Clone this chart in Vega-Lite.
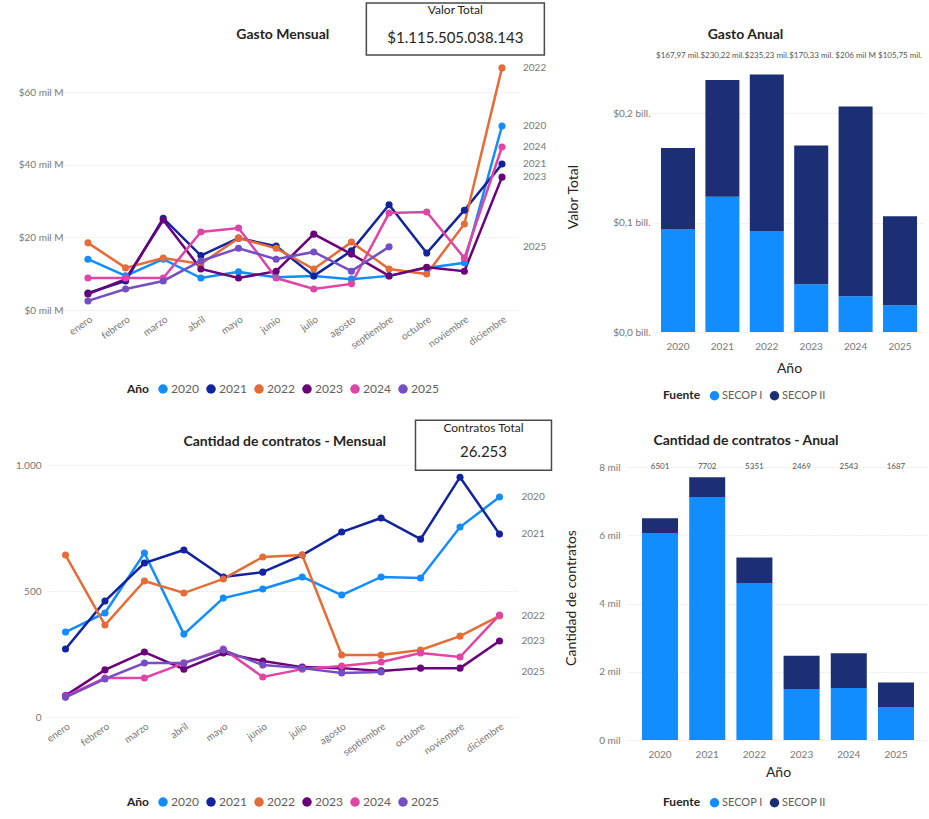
{
  "$schema": "https://vega.github.io/schema/vega-lite/v6.json",
  "background": "white",
  "padding": {"left": 15, "top": 0, "right": 0, "bottom": 5},
  "datasets": {
    "mensual": [
      {"Año": "2020", "mes": "enero", "m": 1, "gasto": 14.0, "contratos": 337},
      {"Año": "2020", "mes": "febrero", "m": 2, "gasto": 9.4, "contratos": 413},
      {"Año": "2020", "mes": "marzo", "m": 3, "gasto": 14.0, "contratos": 651},
      {"Año": "2020", "mes": "abril", "m": 4, "gasto": 8.8, "contratos": 329},
      {"Año": "2020", "mes": "mayo", "m": 5, "gasto": 10.5, "contratos": 472},
      {"Año": "2020", "mes": "junio", "m": 6, "gasto": 9.0, "contratos": 508},
      {"Año": "2020", "mes": "julio", "m": 7, "gasto": 9.4, "contratos": 556},
      {"Año": "2020", "mes": "agosto", "m": 8, "gasto": 8.5, "contratos": 484},
      {"Año": "2020", "mes": "septiembre", "m": 9, "gasto": 9.4, "contratos": 556},
      {"Año": "2020", "mes": "octubre", "m": 10, "gasto": 11.6, "contratos": 552},
      {"Año": "2020", "mes": "noviembre", "m": 11, "gasto": 13.0, "contratos": 754},
      {"Año": "2020", "mes": "diciembre", "m": 12, "gasto": 50.7, "contratos": 873},
      {"Año": "2021", "mes": "enero", "m": 1, "gasto": 4.7, "contratos": 270},
      {"Año": "2021", "mes": "febrero", "m": 2, "gasto": 8.0, "contratos": 460},
      {"Año": "2021", "mes": "marzo", "m": 3, "gasto": 25.3, "contratos": 611},
      {"Año": "2021", "mes": "abril", "m": 4, "gasto": 15.0, "contratos": 663},
      {"Año": "2021", "mes": "mayo", "m": 5, "gasto": 19.8, "contratos": 556},
      {"Año": "2021", "mes": "junio", "m": 6, "gasto": 17.6, "contratos": 575},
      {"Año": "2021", "mes": "julio", "m": 7, "gasto": 9.4, "contratos": 643},
      {"Año": "2021", "mes": "agosto", "m": 8, "gasto": 16.3, "contratos": 734},
      {"Año": "2021", "mes": "septiembre", "m": 9, "gasto": 29.0, "contratos": 790},
      {"Año": "2021", "mes": "octubre", "m": 10, "gasto": 15.7, "contratos": 706},
      {"Año": "2021", "mes": "noviembre", "m": 11, "gasto": 27.5, "contratos": 952},
      {"Año": "2021", "mes": "diciembre", "m": 12, "gasto": 40.2, "contratos": 726},
      {"Año": "2022", "mes": "enero", "m": 1, "gasto": 18.5, "contratos": 643},
      {"Año": "2022", "mes": "febrero", "m": 2, "gasto": 11.6, "contratos": 365},
      {"Año": "2022", "mes": "marzo", "m": 3, "gasto": 14.3, "contratos": 540},
      {"Año": "2022", "mes": "abril", "m": 4, "gasto": 12.7, "contratos": 492},
      {"Año": "2022", "mes": "mayo", "m": 5, "gasto": 19.8, "contratos": 548},
      {"Año": "2022", "mes": "junio", "m": 6, "gasto": 17.0, "contratos": 635},
      {"Año": "2022", "mes": "julio", "m": 7, "gasto": 11.3, "contratos": 643},
      {"Año": "2022", "mes": "agosto", "m": 8, "gasto": 18.7, "contratos": 246},
      {"Año": "2022", "mes": "septiembre", "m": 9, "gasto": 11.3, "contratos": 246},
      {"Año": "2022", "mes": "octubre", "m": 10, "gasto": 9.9, "contratos": 266},
      {"Año": "2022", "mes": "noviembre", "m": 11, "gasto": 23.7, "contratos": 321},
      {"Año": "2022", "mes": "diciembre", "m": 12, "gasto": 66.7, "contratos": 401},
      {"Año": "2023", "mes": "enero", "m": 1, "gasto": 4.4, "contratos": 85},
      {"Año": "2023", "mes": "febrero", "m": 2, "gasto": 8.5, "contratos": 187},
      {"Año": "2023", "mes": "marzo", "m": 3, "gasto": 24.8, "contratos": 258},
      {"Año": "2023", "mes": "abril", "m": 4, "gasto": 11.3, "contratos": 190},
      {"Año": "2023", "mes": "mayo", "m": 5, "gasto": 8.8, "contratos": 254},
      {"Año": "2023", "mes": "junio", "m": 6, "gasto": 10.7, "contratos": 222},
      {"Año": "2023", "mes": "julio", "m": 7, "gasto": 20.9, "contratos": 198},
      {"Año": "2023", "mes": "agosto", "m": 8, "gasto": 15.4, "contratos": 194},
      {"Año": "2023", "mes": "septiembre", "m": 9, "gasto": 9.4, "contratos": 183},
      {"Año": "2023", "mes": "octubre", "m": 10, "gasto": 11.8, "contratos": 194},
      {"Año": "2023", "mes": "noviembre", "m": 11, "gasto": 10.7, "contratos": 194},
      {"Año": "2023", "mes": "diciembre", "m": 12, "gasto": 36.6, "contratos": 302},
      {"Año": "2024", "mes": "enero", "m": 1, "gasto": 8.8, "contratos": 82},
      {"Año": "2024", "mes": "febrero", "m": 2, "gasto": 8.8, "contratos": 155},
      {"Año": "2024", "mes": "marzo", "m": 3, "gasto": 8.8, "contratos": 155},
      {"Año": "2024", "mes": "abril", "m": 4, "gasto": 21.5, "contratos": 214},
      {"Año": "2024", "mes": "mayo", "m": 5, "gasto": 22.6, "contratos": 270},
      {"Año": "2024", "mes": "junio", "m": 6, "gasto": 8.8, "contratos": 159},
      {"Año": "2024", "mes": "julio", "m": 7, "gasto": 5.8, "contratos": 190},
      {"Año": "2024", "mes": "agosto", "m": 8, "gasto": 7.2, "contratos": 202},
      {"Año": "2024", "mes": "septiembre", "m": 9, "gasto": 26.7, "contratos": 218},
      {"Año": "2024", "mes": "octubre", "m": 10, "gasto": 27.0, "contratos": 254},
      {"Año": "2024", "mes": "noviembre", "m": 11, "gasto": 14.3, "contratos": 238},
      {"Año": "2024", "mes": "diciembre", "m": 12, "gasto": 44.9, "contratos": 405},
      {"Año": "2025", "mes": "enero", "m": 1, "gasto": 2.5, "contratos": 78},
      {"Año": "2025", "mes": "febrero", "m": 2, "gasto": 5.8, "contratos": 151},
      {"Año": "2025", "mes": "marzo", "m": 3, "gasto": 8.0, "contratos": 214},
      {"Año": "2025", "mes": "abril", "m": 4, "gasto": 13.5, "contratos": 214},
      {"Año": "2025", "mes": "mayo", "m": 5, "gasto": 17.0, "contratos": 266},
      {"Año": "2025", "mes": "junio", "m": 6, "gasto": 14.0, "contratos": 206},
      {"Año": "2025", "mes": "julio", "m": 7, "gasto": 16.0, "contratos": 194},
      {"Año": "2025", "mes": "agosto", "m": 8, "gasto": 10.7, "contratos": 175},
      {"Año": "2025", "mes": "septiembre", "m": 9, "gasto": 17.4, "contratos": 179}
    ],
    "anual": [
      {"Año": "2020", "Fuente": "SECOP I", "valor": 93.6, "contratos": 6066},
      {"Año": "2020", "Fuente": "SECOP II", "valor": 74.37, "contratos": 435},
      {"Año": "2021", "Fuente": "SECOP I", "valor": 123.6, "contratos": 7121},
      {"Año": "2021", "Fuente": "SECOP II", "valor": 106.62, "contratos": 581},
      {"Año": "2022", "Fuente": "SECOP I", "valor": 91.8, "contratos": 4600},
      {"Año": "2022", "Fuente": "SECOP II", "valor": 143.43, "contratos": 751},
      {"Año": "2023", "Fuente": "SECOP I", "valor": 43.6, "contratos": 1494},
      {"Año": "2023", "Fuente": "SECOP II", "valor": 126.73, "contratos": 975},
      {"Año": "2024", "Fuente": "SECOP I", "valor": 32.7, "contratos": 1524},
      {"Año": "2024", "Fuente": "SECOP II", "valor": 173.3, "contratos": 1019},
      {"Año": "2025", "Fuente": "SECOP I", "valor": 24.5, "contratos": 967},
      {"Año": "2025", "Fuente": "SECOP II", "valor": 81.25, "contratos": 720}
    ]
  },
  "config": {
    "font": "Lato",
    "locale": {"number": {"decimal": ",", "thousands": ".", "grouping": [3], "currency": ["$", ""]}},
    "view": {"stroke": null},
    "axis": {"domain": false, "ticks": false, "labelColor": "#777777", "labelFontSize": 10, "titleColor": "#252423", "titleFontSize": 14, "titleFontWeight": "normal", "gridColor": "#dddddd", "gridDash": [1, 2]},
    "axisX": {"grid": false},
    "title": {"fontSize": 14, "fontWeight": "bold", "color": "#252423", "frame": "bounds", "anchor": "middle"},
    "legend": {"layout": {"bottom": {"anchor": "middle", "bounds": "full"}}, "orient": "bottom", "direction": "horizontal", "titleOrient": "left", "symbolType": "circle", "symbolSize": 90, "labelFontSize": 12, "labelColor": "#605E5C", "titleFontSize": 12, "titleColor": "#252423", "titleFontWeight": "bold", "columnPadding": 6, "labelOffset": 2, "titlePadding": 8}
  },
  "resolve": {"scale": {"color": "independent", "stroke": "independent", "x": "independent", "y": "independent"}, "legend": {"color": "independent", "stroke": "independent"}},
  "spacing": 16,
  "columns": 1,
  "align": "none",
  "concat": [
    {
      "hconcat": [
        {
          "width": 469, "height": 249,
          "title": {"text": "Gasto Mensual", "offset": -42},
          "data": {"name": "mensual"},
          "layer": [
            {
              "mark": {"type": "line", "strokeWidth": 2.5},
              "encoding": {
                "x": {"field": "mes", "type": "ordinal", "scale": {"type": "point", "domain": ["enero","febrero","marzo","abril","mayo","junio","julio","agosto","septiembre","octubre","noviembre","diciembre"], "padding": 0.73, "align": 0.727}, "axis": {"title": null, "labelAngle": -35, "labelPadding": 4}},
                "y": {"field": "gasto", "type": "quantitative", "scale": {"domain": [0, 68.6], "nice": false}, "axis": {"values": [0, 20, 40, 60], "labelExpr": "'$' + datum.value + ' mil M'", "title": null, "minExtent": 0, "labelPadding": -15, "grid": true}},
                "stroke": {"field": "Año", "type": "nominal", "scale": {"range": ["#118DFF","#12239E","#E66C37","#6B007B","#E044A7","#744EC2"]}, "legend": null}
              }
            },
            {
              "mark": {"type": "point", "filled": true, "size": 50, "opacity": 1},
              "encoding": {
                "x": {"field": "mes", "type": "ordinal"},
                "y": {"field": "gasto", "type": "quantitative"},
                "color": {"field": "Año", "type": "nominal", "scale": {"domain": ["2020","2021","2022","2023","2024","2025"], "range": ["#118DFF","#12239E","#E66C37","#6B007B","#E044A7","#744EC2"]}, "legend": {"title": "Año", "offset": 32}}
              }
            },
            {
              "transform": [{"joinaggregate": [{"op": "max", "field": "m", "as": "mmax"}], "groupby": ["Año"]}, {"filter": "datum.m == datum.mmax"}],
              "mark": {"type": "text", "align": "left", "dx": 21, "fontSize": 10, "color": "#777777"},
              "encoding": {
                "x": {"datum": "diciembre", "type": "ordinal"},
                "y": {"field": "gasto", "type": "quantitative"},
                "text": {"field": "Año"}
              }
            },
            {
              "data": {"values": [{"kpi": "Valor Total", "valor": "$1.115.505.038.143"}]},
              "layer": [
                {
                  "mark": {"type": "point", "shape": "M-1,-0.292H1V0.292H-1Z", "size": 31684, "filled": true, "fill": "white", "stroke": "#4a4a4a", "strokeWidth": 1.5, "opacity": 1, "xOffset": -9},
                  "encoding": {"x": {"datum": "noviembre", "type": "ordinal"}, "y": {"datum": 77.4, "type": "quantitative"}}
                },
                {
                  "mark": {"type": "text", "fontSize": 12, "color": "#252423", "dx": -9},
                  "encoding": {"x": {"datum": "noviembre", "type": "ordinal"}, "y": {"datum": 82.6, "type": "quantitative"}, "text": {"field": "kpi"}}
                },
                {
                  "mark": {"type": "text", "fontSize": 15, "color": "#252423", "dx": -9},
                  "encoding": {"x": {"datum": "noviembre", "type": "ordinal"}, "y": {"datum": 74.9, "type": "quantitative"}, "text": {"field": "valor"}}
                }
              ]
            }
          ]
        },
        {
          "width": 272, "height": 271,
          "title": {"text": "Gasto Anual", "offset": 10},
          "data": {"name": "anual"},
          "layer": [
            {
              "mark": {"type": "bar"},
              "encoding": {
                "x": {"field": "Año", "type": "nominal", "scale": {"paddingInner": 0.234, "paddingOuter": 0.18}, "axis": {"title": "Año", "labelAngle": 0, "labelPadding": 9, "titlePadding": 10}},
                "y": {"field": "valor", "type": "quantitative", "stack": "zero", "scale": {"domain": [0, 247.5], "nice": false}, "axis": {"values": [0, 100, 200], "labelExpr": "'$' + format(datum.value / 1000, '.1f') + ' bill.'", "title": "Valor Total", "minExtent": 41, "labelPadding": 3, "titlePadding": 32, "grid": true}},
                "color": {"field": "Fuente", "type": "nominal", "scale": {"domain": ["SECOP I", "SECOP II"], "range": ["#118DFF", "#1D2F74"]}, "legend": {"title": "Fuente", "orient": "none", "legendX": 10, "legendY": 329, "labelFontSize": 11}},
                "order": {"field": "Fuente", "sort": "ascending"}
              }
            },
            {
              "transform": [{"aggregate": [{"op": "sum", "field": "valor", "as": "total_valor"}], "groupby": ["Año"]}, {"calculate": "'$' + format(datum.total_valor, ',.2~f') + ' mil M'", "as": "etiqueta"}],
              "mark": {"type": "text", "fontSize": 8, "color": "#555555", "limit": 45, "ellipsis": "."},
              "encoding": {
                "x": {"field": "Año", "type": "nominal"},
                "y": {"datum": 252, "type": "quantitative"},
                "text": {"field": "etiqueta"}
              }
            }
          ]
        }
      ],
      "spacing": 136,
      "bounds": "flush",
      "resolve": {"scale": {"color": "independent", "stroke": "independent", "x": "independent", "y": "independent"}, "legend": {"color": "independent", "stroke": "independent"}}
    },
    {
      "hconcat": [
        {
          "width": 469, "height": 262,
          "title": {"text": "Cantidad de contratos - Mensual", "offset": -32},
          "data": {"name": "mensual"},
          "layer": [
            {
              "mark": {"type": "line", "strokeWidth": 2.5},
              "encoding": {
                "x": {"field": "mes", "type": "ordinal", "scale": {"type": "point", "domain": ["enero","febrero","marzo","abril","mayo","junio","julio","agosto","septiembre","octubre","noviembre","diciembre"], "padding": 0.444}, "axis": {"title": null, "labelAngle": -35, "labelPadding": 4}},
                "y": {"field": "contratos", "type": "quantitative", "scale": {"domain": [0, 1040], "nice": false}, "axis": {"values": [0, 500, 1000], "format": ",.0f", "title": null, "minExtent": 33, "labelPadding": 7, "grid": true}},
                "stroke": {"field": "Año", "type": "nominal", "scale": {"range": ["#118DFF","#12239E","#E66C37","#6B007B","#E044A7","#744EC2"]}, "legend": null}
              }
            },
            {
              "mark": {"type": "point", "filled": true, "size": 50, "opacity": 1},
              "encoding": {
                "x": {"field": "mes", "type": "ordinal"},
                "y": {"field": "contratos", "type": "quantitative"},
                "color": {"field": "Año", "type": "nominal", "scale": {"domain": ["2020","2021","2022","2023","2024","2025"], "range": ["#118DFF","#12239E","#E66C37","#6B007B","#E044A7","#744EC2"]}, "legend": {"title": "Año", "offset": 38}}
              }
            },
            {
              "transform": [{"joinaggregate": [{"op": "max", "field": "m", "as": "mmax"}], "groupby": ["Año"]}, {"filter": "datum.m == datum.mmax && datum['Año'] != '2024'"}],
              "mark": {"type": "text", "align": "left", "dx": 22, "fontSize": 10, "color": "#777777"},
              "encoding": {
                "x": {"datum": "diciembre", "type": "ordinal"},
                "y": {"field": "contratos", "type": "quantitative"},
                "text": {"field": "Año"}
              }
            },
            {
              "data": {"values": [{"kpi": "Contratos Total", "valor": "26.253"}]},
              "layer": [
                {
                  "mark": {"type": "point", "shape": "M-1,-0.368H1V0.368H-1Z", "size": 18496, "filled": true, "fill": "white", "stroke": "#4a4a4a", "strokeWidth": 1.5, "opacity": 1, "xOffset": -16},
                  "encoding": {"x": {"datum": "diciembre", "type": "ordinal"}, "y": {"datum": 1079, "type": "quantitative"}}
                },
                {
                  "mark": {"type": "text", "fontSize": 12, "color": "#252423", "dx": -16},
                  "encoding": {"x": {"datum": "diciembre", "type": "ordinal"}, "y": {"datum": 1147, "type": "quantitative"}, "text": {"field": "kpi"}}
                },
                {
                  "mark": {"type": "text", "fontSize": 15, "color": "#252423", "dx": -16},
                  "encoding": {"x": {"datum": "diciembre", "type": "ordinal"}, "y": {"datum": 1052, "type": "quantitative"}, "text": {"field": "valor"}}
                }
              ]
            }
          ]
        },
        {
          "width": 300, "height": 285,
          "title": {"text": "Cantidad de contratos - Anual", "offset": 7},
          "data": {"name": "anual"},
          "layer": [
            {
              "mark": {"type": "bar"},
              "encoding": {
                "x": {"field": "Año", "type": "nominal", "scale": {"paddingInner": 0.237, "paddingOuter": 0.297}, "axis": {"title": "Año", "labelAngle": 0, "labelPadding": 9, "titlePadding": 6}},
                "y": {"field": "contratos", "type": "quantitative", "stack": "zero", "scale": {"domain": [0, 8352], "nice": false}, "axis": {"values": [0, 2000, 4000, 6000, 8000], "labelExpr": "(datum.value / 1000) + ' mil'", "title": "Cantidad de contratos", "minExtent": 30, "labelPadding": 8, "titlePadding": 20, "grid": true}},
                "color": {"field": "Fuente", "type": "nominal", "scale": {"domain": ["SECOP I", "SECOP II"], "range": ["#118DFF", "#1D2F74"]}, "legend": {"title": "Fuente", "orient": "none", "legendX": 35, "legendY": 342, "labelFontSize": 11}},
                "order": {"field": "Fuente", "sort": "ascending"}
              }
            },
            {
              "transform": [{"aggregate": [{"op": "sum", "field": "contratos", "as": "total_contratos"}], "groupby": ["Año"]}],
              "mark": {"type": "text", "fontSize": 8, "color": "#555555"},
              "encoding": {
                "x": {"field": "Año", "type": "nominal"},
                "y": {"datum": 8000, "type": "quantitative"},
                "text": {"field": "total_contratos", "format": "d"}
              }
            }
          ]
        }
      ],
      "spacing": 111,
      "bounds": "flush",
      "resolve": {"scale": {"color": "independent", "stroke": "independent", "x": "independent", "y": "independent"}, "legend": {"color": "independent", "stroke": "independent"}}
    }
  ]
}
